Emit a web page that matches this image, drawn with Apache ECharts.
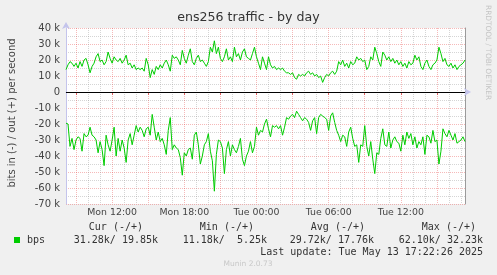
<!DOCTYPE html>
<html>
<head>
<meta charset="utf-8">
<script src="https://cdn.jsdelivr.net/npm/echarts@6/dist/echarts.min.js"></script>
<style>
html,body{margin:0;padding:0;background:#f0f0f0;}
#c{width:497px;height:275px;}
</style>
</head>
<body>
<div id="c"></div>
<script>
// time axis: 10-minute samples from Mon 08:10 to Tue 17:20
const startMinute = 8 * 60 + 10;
const stepMinutes = 10;
const sampleCount = 200;
const dayNames = ['Mon', 'Tue'];
const minutes = [];
const times = [];
for (let i = 0; i < sampleCount; i++) {
  const m = startMinute + i * stepMinutes;
  minutes.push(m);
  const d = Math.floor(m / 1440), h = Math.floor((m % 1440) / 60), mm = m % 60;
  times.push(dayNames[d] + ' ' + String(h).padStart(2, '0') + ':' + String(mm).padStart(2, '0'));
}

// bits out (+), in k
const outK = [
14,17,19,18,16,18,15,19,16,20,
21,17,12,16,18,22,24,19,20,17,
19,25,21,18,22,20,19,21,18,20,
23,17,18,15,17,14,15,14,15,13,
21,17,9,14,11,16,14,17,15,18,
20,17,13,23,21,22,20,17,26,21,
18,23,27,19,17,21,23,19,20,18,
16,19,28,25,32,24,28,21,19,22,
27,20,22,19,28,22,24,20,25,27,
22,21,20,24,28,22,18,14,22,18,
14,22,17,15,16,14,15,14,15,13,
12,12,11,12,9,8,11,10,11,10,
12,13,11,12,10,11,9,10,6,9,
11,10,12,13,11,13,19,17,20,16,
18,15,19,17,18,22,20,21,19,20,
14,16,22,20,28,24,19,16,25,23,
20,22,19,21,18,20,17,19,16,18,
15,19,17,18,23,20,22,16,14,18,
20,16,14,17,18,20,28,24,19,21,
17,16,18,15,17,14,16,17,18,20
];

// bits in (drawn as negative), in k
const inK = [
19.5,20,34,29,36,30,28,29,37,26,
28,27,22,27,28,30,38,31,36,46,
27,33,37,30,22,40,29,37,30,35,
44,30,26,33,27,21,25,22,24,28,
23,22,27,14,22,30,25,31,29,33,
39,24,16,36,33,35,36,41,52,38,
40,36,35,42,27,25,33,45,40,33,
31,26,37,43,62,39,30,31,35,51,
36,31,40,33,36,38,34,29,42,46,
40,37,31,38,34,22,27,24,25,20,
17,23,28,21,22,21,23,21,27,22,
16,17,15,14,16,12,14,16,18,16,
17,19,24,18,16,26,16,14,15,16,
17,24,15,13,19,24,27,31,27,28,
34,25,22,29,34,33,44,33,34,21,
34,40,31,42,51,38,39,29,23,33,
34,25,35,30,28,31,32,37,27,33,
25,29,26,33,28,35,31,33,28,39,
27,28,32,24,31,30,45,37,23,26,
28,24,27,30,26,32,31,30,28,31
];

const yTicks = [-70, -60, -50, -40, -30, -20, -10, 0, 10, 20, 30, 40];
const statHeaders = ['Cur (-/+)', 'Min (-/+)', 'Avg (-/+)', 'Max (-/+)'];
const statValues = ['31.28k/ 19.85k', '11.18k/  5.25k', '29.72k/ 17.76k', '62.10k/ 32.23k'];
const seriesName = 'bps';
const titleText = 'ens256 traffic - by day';
const yName = 'bits in (-) / out (+) per second';
const lastUpdate = 'Last update: Tue May 13 17:22:26 2025';
const footer = 'Munin 2.0.73';
const sideText = 'RRDTOOL / TOBI OETIKER';

const GREEN = '#00cc00';
const MINOR = 'rgba(150,150,150,0.4)';
const MAJOR = 'rgba(230,60,60,0.36)';
const AXISC = '#c4c4ec';
const TXT = '#444';
const MONO = '"DejaVu Sans Mono", monospace';
const SANS = '"DejaVu Sans", sans-serif';

const chart = echarts.init(document.getElementById('c'), null, {renderer: 'canvas'});

const headerRight = [143, 254, 365, 476];
const valueRight = [158, 267, 374, 483];
const graphics = [
  {type: 'text', left: 'center', top: 11, style: {text: titleText, font: '12.6px ' + SANS, fill: '#333'}},
  {type: 'text', x: 12, y: 113, rotation: Math.PI / 2,
   style: {text: yName, font: '10px ' + SANS, fill: TXT, textAlign: 'center', textVerticalAlign: 'middle'}},
  {type: 'text', x: 488, y: 5, rotation: -Math.PI / 2,
   style: {text: sideText, font: '7.4px ' + SANS, fill: '#c4c4c4', textAlign: 'left', textVerticalAlign: 'middle'}},
  {type: 'rect', shape: {x: 14, y: 237, width: 6, height: 6}, style: {fill: GREEN}},
  {type: 'text', x: 27, y: 240, style: {text: seriesName, font: '10px ' + MONO, fill: '#333', textAlign: 'left', textVerticalAlign: 'middle'}},
  {type: 'text', x: 483, y: 252.5, style: {text: lastUpdate, font: '10px ' + MONO, fill: '#333', textAlign: 'right', textVerticalAlign: 'middle'}},
  {type: 'text', x: 248, y: 264, style: {text: footer, font: '7.5px ' + SANS, fill: '#c8c8c8', textAlign: 'center', textVerticalAlign: 'middle'}}
];
statHeaders.forEach((h, k) => graphics.push({type: 'text', x: headerRight[k], y: 227.5,
  style: {text: h, font: '10px ' + MONO, fill: '#333', textAlign: 'right', textVerticalAlign: 'middle'}}));
statValues.forEach((v, k) => graphics.push({type: 'text', x: valueRight[k], y: 240,
  style: {text: v, font: '10px ' + MONO, fill: '#333', textAlign: 'right', textVerticalAlign: 'middle'}}));

const isHour = i => minutes[i] % 60 === 0 && minutes[i] % 180 !== 0;
const is3h = i => minutes[i] % 180 === 0;
const is6h = i => minutes[i] % 360 === 0;

chart.setOption({
  animation: false,
  backgroundColor: '#f0f0f0',
  textStyle: {fontFamily: SANS},
  grid: {left: 66, right: 32, top: 28, bottom: 71, show: true, backgroundColor: '#ffffff', borderWidth: 0},
  graphic: graphics,
  xAxis: [
    {
      type: 'category', data: times, boundaryGap: false, position: 'bottom',
      axisLine: {show: true, lineStyle: {color: AXISC, width: 1}, symbol: ['none', 'arrow'], symbolSize: [6, 7], symbolOffset: [0, 6]},
      axisTick: {show: false},
      axisLabel: {interval: (i) => is6h(i), color: TXT, fontSize: 9.4, fontFamily: SANS, margin: 4},
      splitLine: {show: true, interval: (i) => isHour(i), lineStyle: {color: MINOR, type: 'dotted', width: 1}}
    },
    {
      type: 'category', data: times, boundaryGap: false, position: 'bottom',
      axisLine: {show: false},
      axisTick: {show: true, inside: false, length: 3, interval: (i) => is3h(i), lineStyle: {color: '#e06060'}},
      axisLabel: {show: false},
      splitLine: {show: true, interval: (i) => is3h(i), lineStyle: {color: MAJOR, type: 'dotted', width: 1}}
    }
  ],
  yAxis: [
    {
      type: 'value', min: yTicks[0], max: yTicks[yTicks.length - 1], interval: 10,
      axisLine: {show: true, lineStyle: {color: AXISC, width: 1}, symbol: ['none', 'arrow'], symbolSize: [6, 7], symbolOffset: [0, 6]},
      axisTick: {show: false},
      axisLabel: {color: TXT, fontSize: 10, fontFamily: SANS, margin: 6,
        formatter: v => (v === 0 ? '0' : v + ' k')},
      splitLine: {show: true, lineStyle: {color: MAJOR, type: 'dotted', width: 1}},
      minorTick: {show: false, splitNumber: 2},
      minorSplitLine: {show: true, lineStyle: {color: MINOR, type: 'dotted', width: 1}}
    },
    {
      type: 'value', min: yTicks[0], max: yTicks[yTicks.length - 1], interval: 10, position: 'right',
      axisLine: {show: true, lineStyle: {color: '#9a9a9a', width: 1}},
      axisTick: {show: false}, axisLabel: {show: false}, splitLine: {show: false}
    }
  ],
  series: [
    {
      name: seriesName + ' out', type: 'line', data: outK, showSymbol: false,
      lineStyle: {color: GREEN, width: 1}, itemStyle: {color: GREEN},
      markLine: {silent: true, symbol: 'none', label: {show: false},
        lineStyle: {color: '#000', type: 'solid', width: 1}, data: [{yAxis: 0}]}
    },
    {
      name: seriesName + ' in', type: 'line', data: inK.map(v => -v), showSymbol: false,
      lineStyle: {color: GREEN, width: 1}, itemStyle: {color: GREEN}
    }
  ]
});
</script>
</body>
</html>
